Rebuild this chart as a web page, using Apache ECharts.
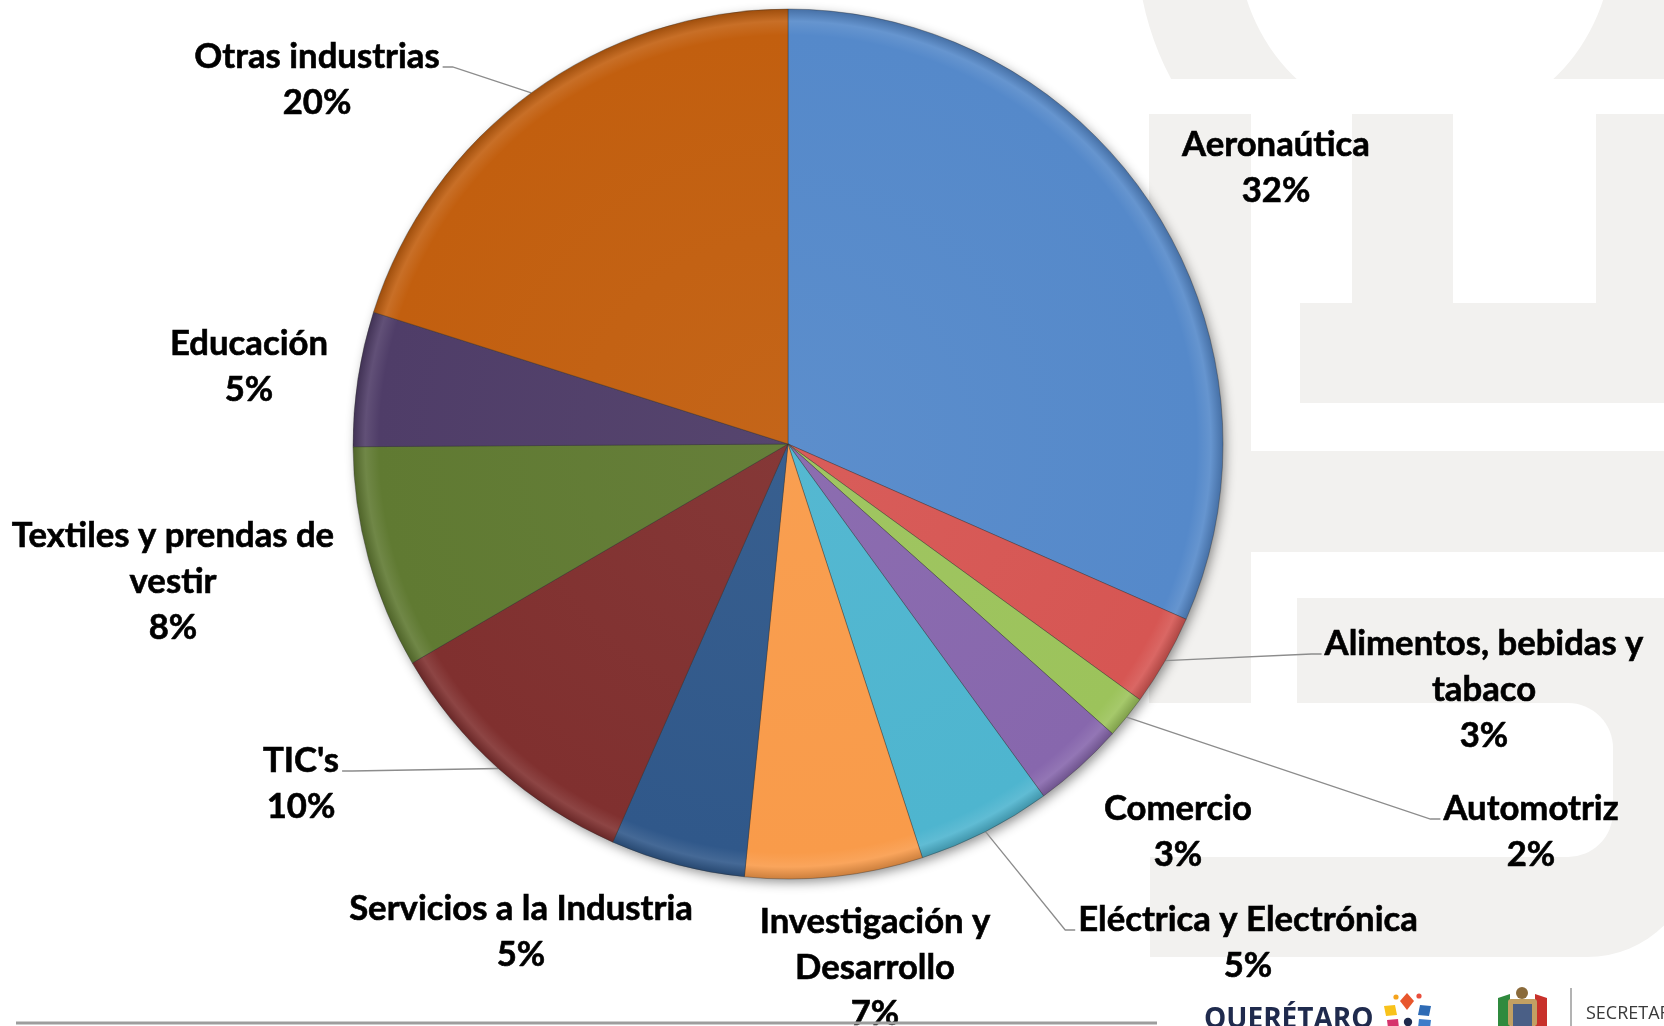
<!DOCTYPE html>
<html>
<head>
<meta charset="utf-8">
<script src="https://cdn.jsdelivr.net/npm/echarts@6/dist/echarts.min.js"></script>
<style>
  html, body { margin: 0; padding: 0; background: #ffffff; }
  #chart { width: 1664px; height: 1026px; }
</style>
</head>
<body>
<div id="chart"></div>
<script>
// Sector shares of the state's specialised workforce (%), clockwise from 12 o'clock
const sectors = [
  'Aeronaútica',
  'Alimentos, bebidas y\ntabaco',
  'Automotriz',
  'Comercio',
  'Eléctrica y Electrónica',
  'Investigación y\nDesarrollo',
  'Servicios a la Industria',
  "TIC's",
  'Textiles y prendas de\nvestir',
  'Educación',
  'Otras industrias'
];
const shares = [31.6, 3.4, 1.6, 3.4, 5.0, 6.6, 5.0, 10.0, 8.3, 5.0, 20.1];

// Presentation settings
const sliceColors = ['#5589ca', '#d65653', '#9cc35b', '#8767ad', '#4eb5cf', '#f99b4a',
                     '#30588a', '#80302f', '#607a32', '#4f3d68', '#c25f0f'];
const labelSpots = [[1276, 168], [1484, 690], [1531, 832], [1178, 832], [1248, 943], [875, 968],
                    [521, 932], [301, 784], [173, 582], [249, 367], [317, 80]];
const withLeader = [false, true, true, false, true, false, false, true, false, false, true];

const CX = 788, CY = 444, R = 435;
const LABEL_FONT = 'Lato';
const LABEL_SIZE = 34.7;
const LINE_H = 46;
const WM = '#f2f1ef';

function hexToRgb(h) {
  const n = parseInt(h.slice(1), 16);
  return [(n >> 16) & 255, (n >> 8) & 255, n & 255];
}
function mix(hex, target, t) {
  const a = hexToRgb(hex), b = hexToRgb(target);
  const c = a.map((v, k) => Math.round(v + (b[k] - v) * t));
  return 'rgb(' + c.join(',') + ')';
}
// bevelled rim: flat face, a light lip, then a darker outer edge
function rimFill(base) {
  return {
    type: 'radial', x: CX, y: CY, r: R, global: true,
    colorStops: [
      { offset: 0, color: mix(base, '#ffffff', 0.04) },
      { offset: 0.94, color: base },
      { offset: 0.972, color: mix(base, '#ffffff', 0.10) },
      { offset: 1, color: mix(base, '#000000', 0.18) }
    ]
  };
}

const measureCtx = document.createElement('canvas').getContext('2d');
function textWidth(s) {
  measureCtx.font = 'bold ' + LABEL_SIZE + 'px ' + LABEL_FONT;
  return measureCtx.measureText(s).width;
}

const chart = echarts.init(document.getElementById('chart'), null, { renderer: 'canvas' });

const watermark = [
  { type: 'ring', shape: { cx: 1425, cy: -57, r: 288, r0: 187 }, style: { fill: WM } },
  { type: 'rect', shape: { x: 1100, y: 79, width: 564, height: 170 }, style: { fill: '#ffffff' } },
  { type: 'rect', shape: { x: 1149, y: 114, width: 102, height: 589 }, style: { fill: WM } },
  { type: 'rect', shape: { x: 1352, y: 114, width: 101, height: 189 }, style: { fill: WM } },
  { type: 'rect', shape: { x: 1596, y: 114, width: 68, height: 189 }, style: { fill: WM } },
  { type: 'rect', shape: { x: 1300, y: 303, width: 364, height: 100 }, style: { fill: WM } },
  { type: 'rect', shape: { x: 1251, y: 451, width: 413, height: 101 }, style: { fill: WM } },
  { type: 'rect', shape: { x: 1297, y: 598, width: 400, height: 359, r: [0, 0, 110, 0] }, style: { fill: WM } },
  { type: 'rect', shape: { x: 1150, y: 857, width: 150, height: 100 }, style: { fill: WM } },
  { type: 'rect', shape: { x: 1255, y: 703, width: 358, height: 154, r: [0, 45, 45, 0] }, style: { fill: '#ffffff' } }
].map(e => Object.assign(e, { z: -10, silent: true }));

const footer = [
  { type: 'line', shape: { x1: 16, y1: 1023, x2: 1157, y2: 1023 }, style: { stroke: '#9d9d9d', lineWidth: 3 } },
  { type: 'text', style: { text: 'QUERÉTARO', x: 1204, y: 1020, font: 'bold 28px "Open Sans"', fill: '#1f2a4d', textVerticalAlign: 'middle' } },
  // flower mark
  { type: 'polygon', shape: { points: [[1407, 993], [1414, 1001], [1407, 1010], [1400, 1001]] }, style: { fill: '#e8562c' } },
  { type: 'circle', shape: { cx: 1396, cy: 997, r: 2.6 }, style: { fill: '#f5a31c' } },
  { type: 'circle', shape: { cx: 1419, cy: 996, r: 2.6 }, style: { fill: '#e94e3c' } },
  { type: 'polygon', shape: { points: [[1384, 1006], [1395, 1005], [1397, 1015], [1386, 1016]] }, style: { fill: '#f8c21b' } },
  { type: 'polygon', shape: { points: [[1420, 1005], [1431, 1006], [1429, 1016], [1418, 1015]] }, style: { fill: '#2e6bb5' } },
  { type: 'polygon', shape: { points: [[1387, 1020], [1398, 1019], [1399, 1028], [1388, 1028]] }, style: { fill: '#d6336c' } },
  { type: 'circle', shape: { cx: 1408, cy: 1022, r: 4.2 }, style: { fill: '#1f2a4d' } },
  { type: 'polygon', shape: { points: [[1419, 1019], [1431, 1020], [1430, 1028], [1418, 1028]] }, style: { fill: '#3d7cc9' } },
  // coat of arms
  { type: 'polygon', shape: { points: [[1498, 998], [1510, 994], [1510, 1026], [1498, 1026]] }, style: { fill: '#2f8a3e' } },
  { type: 'polygon', shape: { points: [[1535, 994], [1547, 998], [1547, 1026], [1535, 1026]] }, style: { fill: '#c8312b' } },
  { type: 'circle', shape: { cx: 1522, cy: 993, r: 6 }, style: { fill: '#8a6a3a' } },
  { type: 'rect', shape: { x: 1508, y: 999, width: 29, height: 27, r: 3 }, style: { fill: '#c2a063' } },
  { type: 'rect', shape: { x: 1513, y: 1004, width: 19, height: 22 }, style: { fill: '#4a5f86' } },
  { type: 'line', shape: { x1: 1571, y1: 988, x2: 1571, y2: 1026 }, style: { stroke: '#9a9a9a', lineWidth: 1.5 } },
  { type: 'text', style: { text: 'SECRETARÍA', x: 1586, y: 1014, font: '18px "Open Sans"', fill: '#3a3a3a', textVerticalAlign: 'middle' } }
].map(e => Object.assign(e, { z: 5, silent: true }));

// soft drop shadow under the disc
const discShadow = {
  type: 'circle', shape: { cx: CX, cy: CY, r: R - 1 }, z: 0, silent: true,
  style: { fill: '#6d6d6d', shadowBlur: 12, shadowOffsetX: 3, shadowOffsetY: 4, shadowColor: 'rgba(0,0,0,0.45)' }
};

const option = {
  animation: false,
  backgroundColor: '#ffffff',
  graphic: { elements: watermark.concat([discShadow], footer) },
  series: [{
    type: 'pie',
    z: 3,
    center: [CX, CY],
    radius: R,
    startAngle: 90,
    clockwise: true,
    avoidLabelOverlap: false,
    percentPrecision: 2,
    emphasis: { disabled: true },
    itemStyle: { borderColor: 'rgba(45,45,45,0.45)', borderWidth: 0.8 },
    label: {
      show: true,
      position: 'outside',
      color: '#000000',
      fontFamily: LABEL_FONT,
      fontWeight: 'bold',
      fontSize: LABEL_SIZE,
      lineHeight: LINE_H,
      textBorderColor: '#000000',
      textBorderWidth: 0.6,
      align: 'center',
      formatter: p => p.name + '\n' + Math.round(p.percent) + '%'
    },
    labelLine: {
      show: true, length: 6, length2: 6, smooth: false,
      lineStyle: { color: '#8c8c8c', width: 1.3 }
    },
    labelLayout: function (p) {
      const i = p.dataIndex;
      const x = labelSpots[i][0], y = labelSpots[i][1];
      const out = { x: x, y: y, align: 'center', verticalAlign: 'middle' };
      if (withLeader[i] && p.labelLinePoints) {
        const start = p.labelLinePoints[0];
        const lines = sectors[i].split('\n');
        const w1 = textWidth(lines[0]);
        const nLines = lines.length + 1;
        const top = y - nLines * LINE_H / 2;
        const ay = top + LINE_H / 2 + 10;
        const s = start[0] > x ? 1 : -1;
        const edge = x + s * w1 / 2;
        out.labelLinePoints = [start, [edge + s * 13, ay], [edge + s * 3, ay]];
      }
      return out;
    },
    data: sectors.map((name, i) => ({
      name: name,
      value: shares[i],
      itemStyle: { color: rimFill(sliceColors[i]) },
      labelLine: { show: withLeader[i] }
    }))
  }]
};

chart.setOption(option);
</script>
</body>
</html>
